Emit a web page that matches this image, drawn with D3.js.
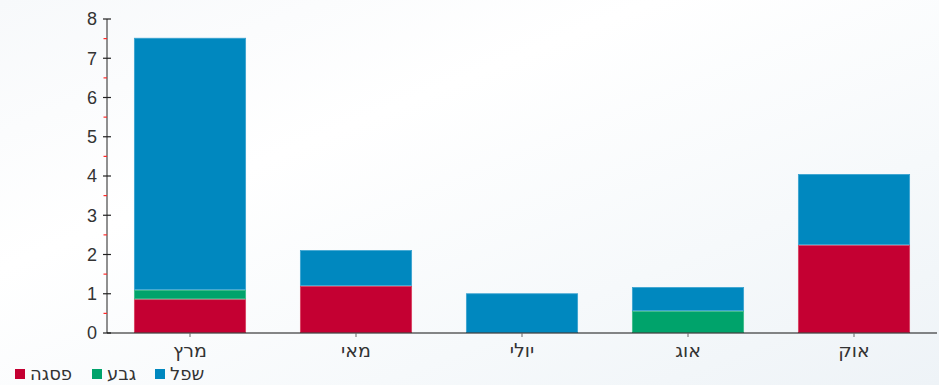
<!DOCTYPE html>
<html lang="he">
<head>
<meta charset="utf-8">
<script src="https://cdn.jsdelivr.net/npm/d3@7"></script>
<style>
  html, body { margin: 0; padding: 0; }
  body { width: 939px; height: 385px; overflow: hidden; background: #fff; }
  svg { display: block; font-family: "Liberation Sans", Arial, sans-serif; }
</style>
</head>
<body>
<svg id="chart" width="939" height="385"></svg>
<script>
// months, left to right
const months = ['מרץ', 'מאי', 'יולי', 'אוג', 'אוק'];
// stacked from bottom up
const peak   = [0.86, 1.20, 0.00, 0.00, 2.24];   // פסגה
const mid    = [0.24, 0.00, 0.00, 0.56, 0.00];   // גבע
const low    = [6.42, 0.91, 1.01, 0.61, 1.81];   // שפל
const seriesNames = ['פסגה', 'גבע', 'שפל'];
const seriesColors = ['#c40032', '#00a36b', '#0088bf'];
const seriesEdges = ['#d9405f', '#3dbb88', '#3aa3d0'];
const yTicks = [0, 1, 2, 3, 4, 5, 6, 7, 8];

const W = 939, H = 385;
const m = { left: 107, right: 2, top: 19, bottom: 52 };

const svg = d3.select('#chart');

// soft background wash
const defs = svg.append('defs');
const bg = defs.append('linearGradient').attr('id', 'bg')
  .attr('x1', '0%').attr('y1', '0%').attr('x2', '100%').attr('y2', '100%');
bg.append('stop').attr('offset', '0%').attr('stop-color', '#f7f9fb');
bg.append('stop').attr('offset', '35%').attr('stop-color', '#ffffff');
bg.append('stop').attr('offset', '70%').attr('stop-color', '#f6f9fb');
bg.append('stop').attr('offset', '100%').attr('stop-color', '#eef3f7');
svg.append('rect').attr('width', W).attr('height', H).attr('fill', 'url(#bg)');

const x = d3.scaleBand().domain(months).range([m.left, W - m.right])
  .paddingInner(0.325).paddingOuter(0.1625);
const y = d3.scaleLinear().domain([0, 8]).range([H - m.bottom, m.top]);

const rows = months.map((mo, i) => ({ month: mo, s0: peak[i], s1: mid[i], s2: low[i] }));
const stack = d3.stack().keys(['s0', 's1', 's2'])(rows);

svg.append('g').selectAll('g').data(stack).join('g')
  .attr('fill', (d, i) => seriesColors[i])
  .attr('stroke', (d, i) => seriesEdges[i])
  .attr('stroke-width', 0.8)
  .selectAll('rect').data(d => d.filter(p => p[1] - p[0] > 0)).join('rect')
  .attr('x', d => x(d.data.month) + 0.4)
  .attr('width', x.bandwidth() - 0.8)
  .attr('y', d => y(d[1]) + 0.4)
  .attr('height', d => y(d[0]) - y(d[1]) - 0.8);

// y axis
const gy = svg.append('g').attr('transform', `translate(${m.left},0)`);
gy.append('line').attr('y1', y(8)).attr('y2', y(0)).attr('stroke', '#222').attr('stroke-width', 1);
gy.selectAll('line.minor').data(d3.range(0.5, 8, 1)).join('line').attr('class', 'minor')
  .attr('x1', -3.5).attr('x2', 0).attr('y1', d => y(d)).attr('y2', d => y(d))
  .attr('stroke', '#ff2a2a').attr('stroke-width', 1.2);
gy.selectAll('line.major').data(yTicks).join('line').attr('class', 'major')
  .attr('x1', -4).attr('x2', 4).attr('y1', d => y(d)).attr('y2', d => y(d))
  .attr('stroke', '#222').attr('stroke-width', 1.2);
gy.selectAll('text').data(yTicks).join('text')
  .attr('x', -10).attr('y', d => y(d)).attr('dy', '0.36em')
  .attr('text-anchor', 'end').attr('fill', '#333').attr('font-size', 18)
  .text(d => d);

// x axis
const gx = svg.append('g').attr('transform', `translate(0,${y(0)})`);
gx.append('line').attr('x1', m.left).attr('x2', W - m.right).attr('stroke', '#111').attr('stroke-width', 1.2);
gx.selectAll('line.t').data(months).join('line').attr('class', 't')
  .attr('x1', d => x(d) + x.bandwidth() / 2).attr('x2', d => x(d) + x.bandwidth() / 2)
  .attr('y1', 0).attr('y2', 4).attr('stroke', '#666');
gx.selectAll('text').data(months).join('text')
  .attr('x', d => x(d) + x.bandwidth() / 2).attr('y', 24)
  .attr('text-anchor', 'middle').attr('fill', '#333').attr('font-size', 19)
  .attr('font-family', '"DejaVu Sans", sans-serif')
  .text(d => d);

// legend
const legX = [15, 92, 155];
const leg = svg.append('g').selectAll('g').data(seriesNames).join('g')
  .attr('transform', (d, i) => `translate(${legX[i]},369)`);
leg.append('rect').attr('width', 10).attr('height', 10)
  .attr('fill', (d, i) => seriesColors[i]);
leg.append('text').attr('x', 15).attr('y', 11)
  .attr('fill', '#333').attr('font-size', 18)
  .attr('font-family', '"DejaVu Sans", sans-serif')
  .text(d => d);
</script>
</body>
</html>
